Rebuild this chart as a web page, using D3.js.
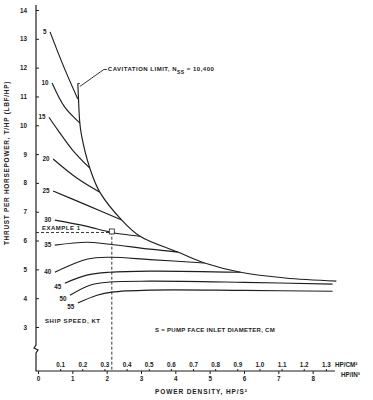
<!DOCTYPE html>
<html>
<head>
<meta charset="utf-8">
<script src="https://cdn.jsdelivr.net/npm/d3@7"></script>
<style>
  body { margin: 0; background: #fff; }
  svg text { font-family: "Liberation Sans", Arial, sans-serif; font-weight: bold; fill: #222; }
</style>
</head>
<body>
<svg id="chart"></svg>
<script>
// thrust per horsepower vs power density, one curve per ship speed (kt)
const speedLabels = ['5', '10', '15', '20', '25', '30', '35', '40', '45', '50', '55'];

// [power density HP/in^3, T/HP]
const curve5 = [[0.35, 13.24], [0.76, 12.0], [1.16, 10.91]];
const curve10 = [[0.41, 11.47], [0.78, 10.63], [1.22, 10.08]];
const curve15 = [[0.32, 10.28], [0.58, 9.83], [1.0, 9.15], [1.51, 8.51]];
const curve20 = [[0.44, 8.83], [1.13, 8.17], [1.80, 7.68]];
const curve25 = [[0.44, 7.72], [1.42, 7.23], [2.44, 6.71]];
const curve30 = [[0.49, 6.71], [1.4, 6.5], [2.15, 6.28], [2.97, 6.15]];
const curve35 = [[0.49, 5.84], [1.42, 5.94], [2.09, 5.87], [3.26, 5.7], [4.07, 5.6]];
const curve40 = [[0.49, 4.90], [1.42, 5.35], [2.09, 5.42], [3.26, 5.34], [4.85, 5.22]];
const curve45 = [[0.78, 4.52], [1.42, 4.80], [2.09, 4.90], [3.26, 4.94], [5.9, 4.9]];
const curve50 = [[0.93, 4.10], [1.51, 4.45], [2.09, 4.56], [3.26, 4.59], [6.0, 4.55], [8.58, 4.49]];
const curve55 = [[1.16, 3.83], [1.72, 4.10], [2.15, 4.21], [3.26, 4.28], [6.0, 4.27], [8.58, 4.24]];

const cavitationLimit = [
    [1.16, 11.45], [1.18, 10.91], [1.21, 10.2], [1.26, 9.7], [1.51, 8.51], [1.80, 7.68],
    [2.44, 6.71], [2.97, 6.15], [4.07, 5.6], [4.85, 5.22], [5.9, 4.9], [7.2, 4.7], [8.69, 4.59],
];

const exampleOne = [2.15, 6.28];

const yTicks = [3, 4, 5, 6, 7, 8, 9, 10, 11, 12, 13, 14];
const inTicks = [0, 1, 2, 3, 4, 5, 6, 7, 8];
const cmTicks = [0.1, 0.2, 0.3, 0.4, 0.5, 0.6, 0.7, 0.8, 0.9, 1.0, 1.1, 1.2, 1.3];
const CM2_IN = 6.45; // 1 HP/cm^2 in the lower unit

const width = 373;
const height = 400;
const axisX = 36;
const baseY = 371;
const ink = '#1e1e1e';

const svg = d3.select('#chart')
    .attr('width', width)
    .attr('height', height);

const x = d3.scaleLinear().domain([0, 9]).range([38, 347]);
const xCm = d3.scaleLinear().domain([0, 9 / CM2_IN]).range([38, 347]);
const y = d3.scaleLinear().domain([3, 14]).range([327, 10]);

const line = d3.line()
    .x(d => x(d[0]))
    .y(d => y(d[1]))
    .curve(d3.curveCatmullRom.alpha(0.5));

const styleTicks = (g, size) => {
    g.select('.domain').remove();
    g.attr('font-family', null).attr('font-size', null);
    g.selectAll('line').attr('stroke', ink);
    g.selectAll('text').style('font-size', `${size}px`).attr('fill', ink);
};

// y axis with a break near the bottom
svg.append('path')
    .attr('d', `M${axisX},5 V345 l-2,3 l4,2 l-2,3 V${baseY} H335`)
    .attr('fill', 'none')
    .attr('stroke', ink)
    .attr('stroke-width', 1.2);

svg.append('g')
    .attr('transform', `translate(${axisX},0)`)
    .call(d3.axisLeft(y).tickValues(yTicks).tickSize(-3).tickPadding(9))
    .call(g => styleTicks(g, 6.3));

svg.append('g')
    .attr('transform', `translate(0,${baseY})`)
    .call(d3.axisBottom(x).tickValues(inTicks).tickSize(3).tickPadding(3))
    .call(g => styleTicks(g, 6.3));

svg.append('g')
    .attr('transform', `translate(0,${baseY})`)
    .call(d3.axisTop(xCm).tickValues(cmTicks).tickSize(2).tickPadding(2).tickFormat(d3.format('.1f')))
    .call(g => styleTicks(g, 6.3));

svg.append('text')
    .attr('x', 335).attr('y', 367)
    .style('font-size', '6.3px')
    .text('HP/CM²');
svg.append('text')
    .attr('x', 341).attr('y', 377)
    .style('font-size', '6.3px')
    .text('HP/IN³');

// curves
const curves = [curve5, curve10, curve15, curve20, curve25, curve30, curve35, curve40, curve45, curve50, curve55];
curves.forEach((pts, i) => {
    svg.append('path')
        .attr('d', line(pts))
        .attr('fill', 'none')
        .attr('stroke', ink)
        .attr('stroke-width', 1.15);
    svg.append('text')
        .attr('x', x(pts[0][0]) - 3.5)
        .attr('y', y(pts[0][1]) + (i >= 8 ? 6 : 2))
        .attr('text-anchor', 'end')
        .style('font-size', '6.3px')
        .text(speedLabels[i]);
});

svg.append('path')
    .attr('d', line(cavitationLimit))
    .attr('fill', 'none')
    .attr('stroke', ink)
    .attr('stroke-width', 1.15);

// cavitation limit callout
const cavTop = [x(cavitationLimit[0][0]), y(cavitationLimit[0][1])];
svg.append('path')
    .attr('d', `M${cavTop[0]},${cavTop[1]} h2 M${cavTop[0] + 2},${cavTop[1] + 3} L${cavTop[0] + 26},${cavTop[1] - 14} h3`)
    .attr('fill', 'none')
    .attr('stroke', ink)
    .attr('stroke-width', 0.9);
const cavText = svg.append('text')
    .attr('x', cavTop[0] + 30).attr('y', cavTop[1] - 12)
    .style('font-size', '6px')
    .style('letter-spacing', '0.5px');
cavText.append('tspan').text('CAVITATION LIMIT, N');
cavText.append('tspan').attr('dy', 2.5).style('font-size', '5px').text('SS');
cavText.append('tspan').attr('dy', -2.5).text(' = 10,400');

// example 1
const ex = [x(exampleOne[0]), y(exampleOne[1])];
svg.append('path')
    .attr('d', `M${axisX},${ex[1]} H${ex[0]} V${baseY}`)
    .attr('fill', 'none')
    .attr('stroke', ink)
    .attr('stroke-width', 0.9)
    .attr('stroke-dasharray', '3,2');
svg.append('rect')
    .attr('x', ex[0] - 2.5).attr('y', ex[1] - 3.5)
    .attr('width', 5).attr('height', 5)
    .attr('fill', '#fff')
    .attr('stroke', ink)
    .attr('stroke-width', 0.8);
svg.append('text')
    .attr('x', 42).attr('y', ex[1] - 2)
    .style('font-size', '6px')
    .style('letter-spacing', '0.5px')
    .text('EXAMPLE 1');

// notes and titles
svg.append('text')
    .attr('x', 45).attr('y', 323)
    .style('font-size', '6px')
    .style('letter-spacing', '0.6px')
    .text('SHIP SPEED, KT');

svg.append('text')
    .attr('x', 155).attr('y', 332)
    .style('font-size', '6px')
    .style('letter-spacing', '0.3px')
    .text('S = PUMP FACE INLET DIAMETER, CM');

svg.append('text')
    .attr('x', 155).attr('y', 394)
    .style('font-size', '6.5px')
    .style('letter-spacing', '0.9px')
    .text('POWER DENSITY, HP/S²');

svg.append('text')
    .attr('transform', 'translate(9,163) rotate(-90)')
    .attr('text-anchor', 'middle')
    .style('font-size', '6.5px')
    .style('letter-spacing', '0.7px')
    .text('THRUST PER HORSEPOWER, T/HP (LBF/HP)');
</script>
</body>
</html>
